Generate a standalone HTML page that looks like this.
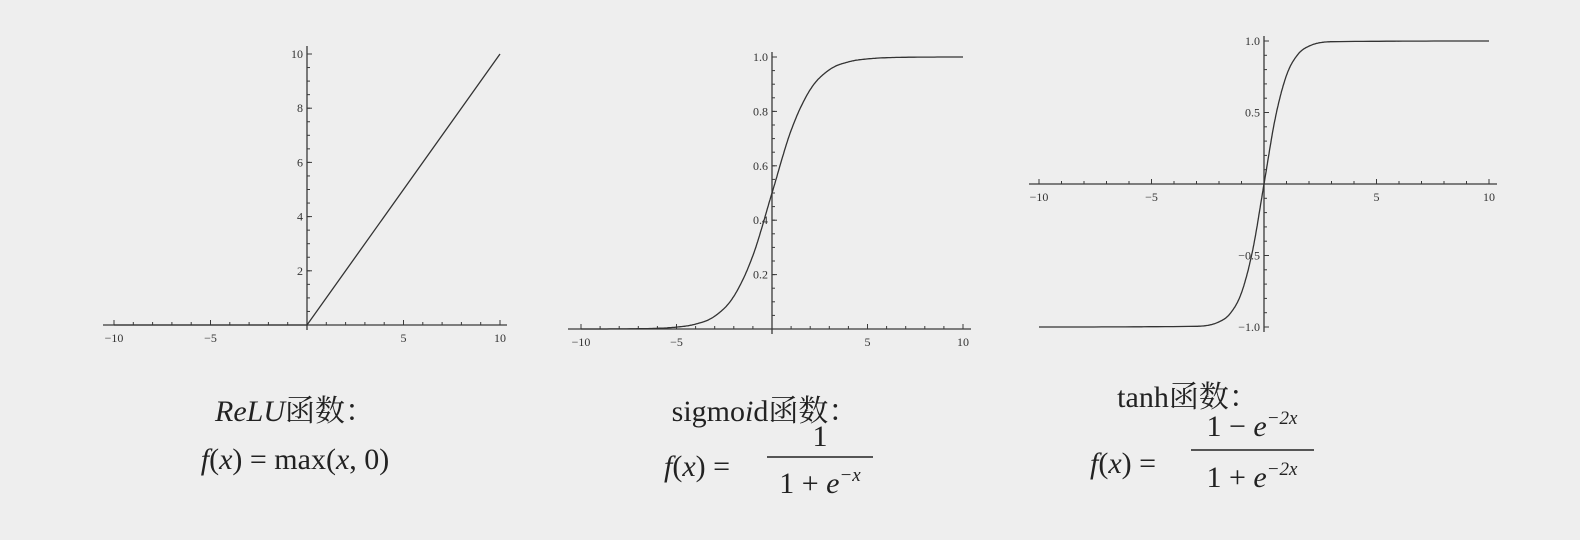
<!DOCTYPE html>
<html><head><meta charset="utf-8">
<style>
html,body{margin:0;padding:0;background:#eeeeee;}
svg{display:block;}
.tk{font-family:"Liberation Serif",serif;font-size:12px;fill:#333;}
.cap{font-family:"Liberation Serif","Noto Serif CJK SC",serif;font-size:30px;fill:#222;}
.it{font-style:italic;}
</style></head>
<body>
<svg id="chart" width="1580" height="540" viewBox="0 0 1580 540">
<rect width="1580" height="540" fill="#eeeeee"/>
<g id="plots"></g>
<g>
<text class="cap" x="295" y="421" text-anchor="middle"><tspan class="it">ReLU</tspan>函数：</text>
<text class="cap" x="295" y="469" text-anchor="middle"><tspan class="it">f</tspan>(<tspan class="it">x</tspan>) = max(<tspan class="it">x</tspan>, 0)</text>
</g>
<g>
<text class="cap" x="765" y="421" text-anchor="middle">sigmo<tspan class="it">i</tspan>d函数：</text>
<text class="cap" x="664" y="476"><tspan class="it">f</tspan>(<tspan class="it">x</tspan>) =</text>
<text class="cap" x="820" y="446" text-anchor="middle">1</text>
<line x1="767" y1="457" x2="873" y2="457" stroke="#222" stroke-width="1.5"/>
<text class="cap" x="820" y="493" text-anchor="middle">1 + <tspan class="it">e</tspan><tspan font-size="19" dy="-12" class="it">−x</tspan></text>
</g>
<g>
<text class="cap" x="1188" y="407" text-anchor="middle">tanh函数：</text>
<text class="cap" x="1090" y="473"><tspan class="it">f</tspan>(<tspan class="it">x</tspan>) =</text>
<text class="cap" x="1252" y="436" text-anchor="middle">1 − <tspan class="it">e</tspan><tspan font-size="19" dy="-12" class="it">−2x</tspan></text>
<line x1="1191" y1="450" x2="1314" y2="450" stroke="#222" stroke-width="1.5"/>
<text class="cap" x="1252" y="487" text-anchor="middle">1 + <tspan class="it">e</tspan><tspan font-size="19" dy="-12" class="it">−2x</tspan></text>
</g>
</svg>
<script>
const xTickLabels = [-10, -5, 5, 10];
const reluX = [-10, 0, 10];
const reluY = [0, 0, 10];
const reluYTicks = [2, 4, 6, 8, 10];
const sigX = [-10, -7, -5, -4, -3, -2, -1, 0, 1, 2, 3, 4, 5, 7, 10];
const sigY = [0.0, 0.001, 0.007, 0.018, 0.047, 0.12, 0.27, 0.5, 0.73, 0.88, 0.953, 0.982, 0.993, 0.999, 1.0];
const sigYTicks = [0.2, 0.4, 0.6, 0.8, 1.0];
const tanhX = [-10, -3, -2, -1.5, -1, -0.5, 0, 0.5, 1, 1.5, 2, 3, 10];
const tanhY = [-1.0, -0.995, -0.964, -0.905, -0.76, -0.46, 0, 0.46, 0.76, 0.905, 0.964, 0.995, 1.0];
const tanhYTicks = [-1.0, -0.5, 0.5, 1.0];
const tanhYTickLabels = ["−1.0", "−0.5", "0.5", "1.0"];

const NS = "http://www.w3.org/2000/svg";
const root = document.getElementById('plots');
function mk(tag, attrs, parent) {
  const e = document.createElementNS(NS, tag);
  for (const k in attrs) e.setAttribute(k, attrs[k]);
  parent.appendChild(e);
  return e;
}
function monotone(xs, ys) {
  const n = xs.length, d = [], m = [];
  for (let i = 0; i < n - 1; i++) d.push((ys[i+1]-ys[i])/(xs[i+1]-xs[i]));
  m.push(d[0]);
  for (let i = 1; i < n - 1; i++) m.push(d[i-1]*d[i] <= 0 ? 0 : (d[i-1]+d[i])/2);
  m.push(d[n-2]);
  for (let i = 0; i < n - 1; i++) {
    if (d[i] === 0) { m[i] = 0; m[i+1] = 0; continue; }
    const a = m[i]/d[i], b = m[i+1]/d[i], s = a*a + b*b;
    if (s > 9) { const t = 3/Math.sqrt(s); m[i] = t*a*d[i]; m[i+1] = t*b*d[i]; }
  }
  const pts = [];
  for (let i = 0; i < n - 1; i++) {
    const h = xs[i+1]-xs[i];
    for (let k = 0; k < 20; k++) {
      const t = k/20, t2 = t*t, t3 = t2*t;
      const y = (2*t3-3*t2+1)*ys[i] + (t3-2*t2+t)*h*m[i] + (-2*t3+3*t2)*ys[i+1] + (t3-t2)*h*m[i+1];
      pts.push([xs[i]+t*h, y]);
    }
  }
  pts.push([xs[n-1], ys[n-1]]);
  return pts;
}
function plot(cfg) {
  const g = mk('g', {}, root);
  
  
  const sx = v => cfg.x0 + v * (cfg.x10 - cfg.x0) / 10;
  const sy = v => cfg.y0 - v * cfg.ky;
  const stroke = '#3a3a3a';
  const xa = mk('line', {x1: cfg.axL, y1: cfg.y0, x2: cfg.axR, y2: cfg.y0, stroke: stroke, 'stroke-width': 1.3}, g);
  
  
  const ya = mk('line', {x1: cfg.x0, y1: cfg.axT, x2: cfg.x0, y2: cfg.axB, stroke: stroke, 'stroke-width': 1.3}, g);
  
  
  for (let v = -10; v <= 10; v++) {
    if (v === 0) continue;
    const major = v % 5 === 0;
    mk('line', {x1: sx(v), y1: cfg.y0, x2: sx(v), y2: cfg.y0 - (major ? 5 : 3), stroke: stroke, 'stroke-width': 1}, g);
  }
  xTickLabels.forEach(v => {
    const t = mk('text', {x: sx(v), y: cfg.y0 + 17, 'text-anchor': 'middle', class: 'tk'}, g);
    t.textContent = v < 0 ? '−' + Math.abs(v) : String(v);
    
    
  });
  for (let v = cfg.yMin; v <= cfg.yMax + 1e-9; v += cfg.minor) {
    if (Math.abs(v) < 1e-9) continue;
    mk('line', {x1: cfg.x0, y1: sy(v), x2: cfg.x0 + 3, y2: sy(v), stroke: stroke, 'stroke-width': 1}, g);
  }
  cfg.yTicks.forEach((v, i) => {
    mk('line', {x1: cfg.x0, y1: sy(v), x2: cfg.x0 + 5, y2: sy(v), stroke: stroke, 'stroke-width': 1}, g);
    const t = mk('text', {x: cfg.x0 - 4, y: sy(v) + 4, 'text-anchor': 'end', class: 'tk'}, g);
    t.textContent = cfg.yLabels[i];
    
    
  });
  const pts = cfg.smooth ? monotone(cfg.xs, cfg.ys) : cfg.xs.map((x, i) => [x, cfg.ys[i]]);
  const d = pts.map((p, i) => (i ? 'L' : 'M') + sx(p[0]).toFixed(1) + ' ' + sy(p[1]).toFixed(1)).join(' ');
  const path = mk('path', {d: d, fill: 'none', stroke: '#333', 'stroke-width': 1.3}, g);
  
  
}
plot({name: 'relu-plot', x0: 307, x10: 500, y0: 325, ky: 27.1, axL: 103, axR: 507, axT: 46, axB: 330,
  yMin: 0, yMax: 10, minor: 0.5, yTicks: reluYTicks, yLabels: reluYTicks.map(String),
  xs: reluX, ys: reluY, smooth: false});
plot({name: 'sigmoid-plot', x0: 772, x10: 963, y0: 329, ky: 272, axL: 568, axR: 971, axT: 52, axB: 334,
  yMin: 0, yMax: 1.0, minor: 0.05, yTicks: sigYTicks, yLabels: sigYTicks.map(v => v.toFixed(1)),
  xs: sigX, ys: sigY, smooth: true});
plot({name: 'tanh-plot', x0: 1264, x10: 1489, y0: 184, ky: 143, axL: 1029, axR: 1497, axT: 36, axB: 332,
  yMin: -1.0, yMax: 1.0, minor: 0.1, yTicks: tanhYTicks, yLabels: tanhYTickLabels,
  xs: tanhX, ys: tanhY, smooth: true});
</script>
</body></html>
